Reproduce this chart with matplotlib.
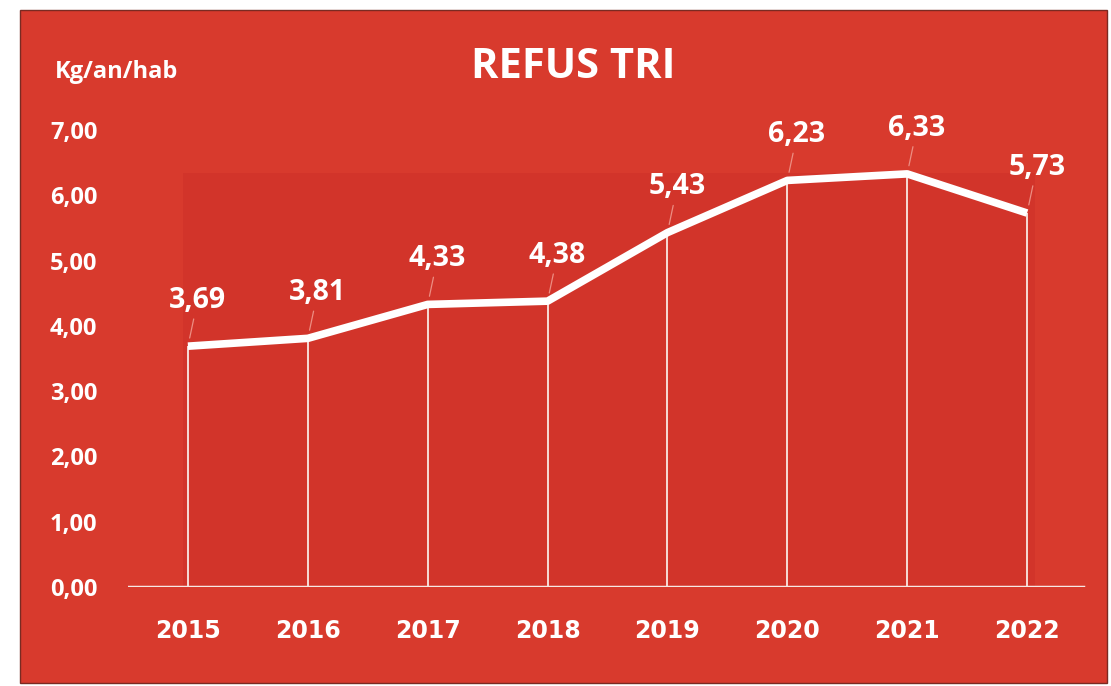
import matplotlib.pyplot as plt
from matplotlib.patches import Rectangle

years = ["2015", "2016", "2017", "2018", "2019", "2020", "2021", "2022"]
values = [3.69, 3.81, 4.33, 4.38, 5.43, 6.23, 6.33, 5.73]
value_labels = ["3,69", "3,81", "4,33", "4,38", "5,43", "6,23", "6,33", "5,73"]
y_ticks = [0, 1, 2, 3, 4, 5, 6, 7]
y_tick_labels = ["0,00", "1,00", "2,00", "3,00", "4,00", "5,00", "6,00", "7,00"]

RED = "#d83a2d"
RED_DARK = "#d2342a"
W, H = 1111, 686

plt.rcParams["font.family"] = ["Open Sans", "DejaVu Sans"]
plt.rcParams["font.weight"] = "bold"

fig = plt.figure(figsize=(W / 100, H / 100), dpi=100, facecolor="white")

# red card on white paper
fig.patches.append(Rectangle((20 / W, 3 / H), 1087 / W, 673 / H,
                             transform=fig.transFigure, facecolor=RED,
                             edgecolor="#7a2a22", linewidth=1.0, zorder=0))
# slightly darker plot area
fig.patches.append(Rectangle((183 / W, 99 / H), 852 / W, 414 / H,
                             transform=fig.transFigure, facecolor=RED_DARK,
                             edgecolor="none", zorder=0))

ax = fig.add_axes([128 / W, 99 / H, 959 / W, 496 / H])
ax.set_zorder(2)
ax.set_facecolor("none")
x = list(range(len(years)))

ax.vlines(x, 0, values, color="#f6dcd6", linewidth=1.4, zorder=2)
ax.plot(x, values, color="white", linewidth=5.5, solid_joinstyle="round",
        solid_capstyle="butt", zorder=3)
ax.axhline(0, xmin=0, xmax=0.996, color="#f7e8e4", linewidth=2.5, zorder=2)

for xi, v, lab in zip(x, values, value_labels):
    ax.annotate(lab, (xi, v), xytext=(7, 33), textcoords="offset points",
                ha="center", va="center", color="white", fontsize=20.5,
                fontweight="bold",
                arrowprops=dict(arrowstyle="-", color="#ec8d82", lw=0.9,
                                shrinkA=1, shrinkB=6))

ax.set_xlim(-0.5, 7.5)
ax.set_ylim(0, 7.6)
ax.set_yticks(y_ticks)
ax.set_yticklabels(y_tick_labels)
ax.set_xticks(x)
ax.set_xticklabels(years)
ax.tick_params(axis="y", length=0, pad=22, labelsize=17, labelcolor="white")
ax.tick_params(axis="x", length=0, pad=23, labelsize=17, labelcolor="white")
for lab in ax.get_xticklabels():
    lab.set_fontweight("bold")
    lab.set_fontfamily(["DejaVu Sans"])
for lab in ax.get_yticklabels():
    lab.set_fontweight("bold")
for s in ax.spines.values():
    s.set_visible(False)

fig.text(573 / W, 1 - 68 / H, "REFUS TRI", ha="center", va="center",
         color="white", fontsize=30, fontweight="bold")
fig.text(55 / W, 1 - 72 / H, "Kg/an/hab", ha="left", va="center",
         color="white", fontsize=17, fontweight="bold")

fig.savefig("out.png", dpi=100, facecolor="white")
